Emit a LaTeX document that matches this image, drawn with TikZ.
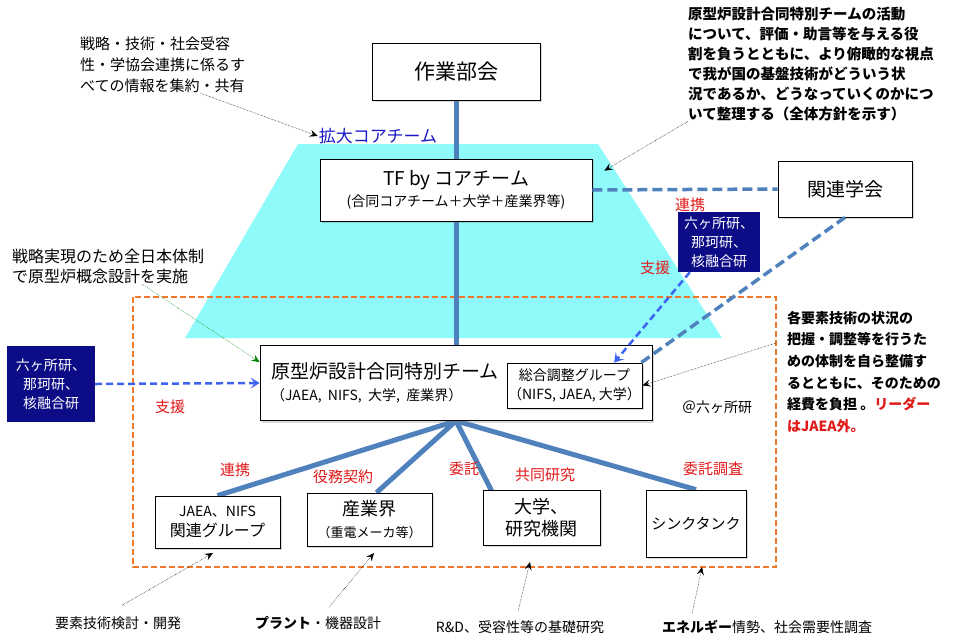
\documentclass[tikz,border=0pt]{standalone}
\usepackage{fontspec}
\setmainfont{Noto Sans CJK JP}
\usetikzlibrary{arrows.meta,shadows}
\pgfdeclarelayer{back}
\pgfdeclarelayer{mid}
\pgfsetlayers{back,mid,main}
\newcommand\fsz[2]{\fontsize{#1}{#2}\selectfont}
\definecolor{coreblue}{RGB}{79,129,189}
\definecolor{trapcyan}{RGB}{143,250,250}
\definecolor{frameorange}{RGB}{240,120,40}
\definecolor{labnavy}{RGB}{12,12,135}
\definecolor{linkblue}{RGB}{60,100,240}
\definecolor{notered}{RGB}{225,25,25}
\definecolor{extblue}{RGB}{25,25,200}
\definecolor{ptrgreen}{RGB}{0,128,0}

\begin{document}
\begin{tikzpicture}[x=1pt,y=-1pt,
  box/.style={draw=black,fill=white,line width=0.8pt,align=center,inner sep=0pt,
    drop shadow={shadow xshift=2pt,shadow yshift=-2pt,opacity=0.3}},
  lab/.style={fill=labnavy,text=white,align=center,inner sep=0pt,font=\fsz{14}{19}},
  note/.style={anchor=north west,align=left,inner sep=0pt},
  rel/.style={text=notered,inner sep=1pt,font=\fsz{15}{18}},
  trunk/.style={draw=coreblue,line width=5pt},
  link/.style={draw=coreblue,line width=3.5pt,dash pattern=on 10pt off 5pt},
  assist/.style={draw=linkblue,line width=2.5pt,dash pattern=on 7pt off 4pt,-{Stealth[length=9pt,width=11pt,inset=4pt]}},
  ptr/.style={draw=black,line width=0.5pt,densely dotted,-{Stealth[length=8pt,width=7pt,inset=3pt]}}]
\useasboundingbox (0,0) rectangle (957,641);

\begin{pgfonlayer}{back}
\fill[trapcyan] (298,144) -- (598,144) -- (722,338) -- (185,338) -- cycle;
\draw[frameorange,line width=2pt,dash pattern=on 6pt off 3pt] (133,297) rectangle (776,567);
\end{pgfonlayer}

% boxes
\node[box,minimum width=168pt,minimum height=57pt,font=\fsz{21}{24}] (wg) at (456,71.5) {作業部会};
\node[box,minimum width=272pt,minimum height=62pt,font=\fsz{19}{22}] (tf) at (456,190) {TF by コアチーム\\[-1pt]{\fsz{14}{16}(合同コアチーム＋大学＋産業界等)}};
\node[box,minimum width=134pt,minimum height=56pt,font=\fsz{19}{22}] (soc) at (845,189) {関連学会};
\node[box,minimum width=392pt,minimum height=75pt,text width=370pt,align=left,font=\fsz{19}{22}] (team) at (456,383) {原型炉設計合同特別チーム\\{\fsz{14}{17}（JAEA, NIFS, 大学, 産業界）}};
\node[box,minimum width=135pt,minimum height=45pt,font=\fsz{14}{19}] (coord) at (574.5,385.5) {総合調整グループ\\（NIFS, JAEA, 大学）};
\node[box,minimum width=125pt,minimum height=52pt,font=\fsz{14}{20}] (jaea) at (217.5,522) {JAEA、NIFS\\{\fsz{16}{20}関連グループ}};
\node[box,minimum width=125pt,minimum height=53pt,font=\fsz{18}{22}] (ind) at (369.5,519.5) {産業界\\{\fsz{13}{16}（重電メーカ等）}};
\node[box,minimum width=117pt,minimum height=55pt,font=\fsz{18}{22}] (univ) at (541.5,517.5) {大学、\\研究機関};
\node[box,minimum width=100pt,minimum height=67pt,font=\fsz{15}{18}] (think) at (696,523.5) {シンクタンク};
\node[lab,minimum width=82pt,minimum height=60pt] (nav2) at (719,242) {六ヶ所研、\\那珂研、\\核融合研};
\node[lab,minimum width=88pt,minimum height=76pt] (nav1) at (51,384) {六ヶ所研、\\那珂研、\\核融合研};

% texts
\node[text=extblue,inner sep=1pt,font=\fsz{17}{20}] (ext) at (378,136) {拡大コアチーム};
\node[inner sep=1pt,font=\fsz{14}{17}] (site) at (717,407) {＠六ヶ所研};
\node[note,font=\fsz{15}{21}] (info) at (80,37) {戦略・技術・社会受容\\性・学協会連携に係るす\\べての情報を集約・共有};
\node[note,font=\fsz{16}{20}] (strat) at (12,249) {戦略実現のため全日本体制\\で原型炉概念設計を実施};
\node[note,font=\fsz{14.5}{20}\bfseries] (top) at (688,7) {原型炉設計合同特別チームの活動\\について、評価・助言等を与える役\\割を負うとともに、より俯瞰的な視点\\で我が国の基盤技術がどういう状\\況であるか、どうなっていくのかにつ\\いて整理する（全体方針を示す）};
\node[note,font=\fsz{14}{21.6}\bfseries] (side) at (787,311) {各要素技術の状況の\\把握・調整等を行うた\\めの体制を自ら整備す\\るとともに、そのための\\経費を負担 。{\color{notered}リーダー}\\{\color{notered}はJAEA外。}};
\node[rel] (r1) at (690,205) {連携};
\node[rel] (r2) at (655,268) {支援};
\node[rel] (r3) at (170,407) {支援};
\node[rel] (r4) at (235,470) {連携};
\node[rel] (r5) at (343,477) {役務契約};
\node[rel] (r6) at (464,469) {委託};
\node[rel] (r7) at (545,475) {共同研究};
\node[rel] (r8) at (713,469) {委託調査};
\node[inner sep=1pt,font=\fsz{14}{17}] (b1) at (118,623) {要素技術検討・開発};
\node[inner sep=1pt,font=\fsz{14}{17}] (b2) at (318,623) {{\bfseries プラント}・機器設計};
\node[inner sep=1pt,font=\fsz{14}{17}] (b3) at (520,627) {R\&D、受容性等の基礎研究};
\node[inner sep=1pt,font=\fsz{14}{17}] (b4) at (767,627) {{\bfseries エネルギー}情勢、社会需要性調査};

\coordinate (h1) at (213,553);
\coordinate (h2) at (374,553);
\coordinate (h3) at (530,562);
\coordinate (h4) at (702,567);

% connectors
\begin{pgfonlayer}{mid}
\draw[trunk] (wg) -- (team);
\draw[trunk] (team.south) -- (jaea.north);
\draw[trunk] (team.south) -- ([xshift=7pt]ind.north);
\draw[trunk] (team.south) -- ([xshift=-49pt,yshift=-3pt]univ.north);
\draw[trunk] (team.south) -- (think.north);
\end{pgfonlayer}
\draw[link] (tf.east) -- (soc.west);
\draw[link] (soc.south) -- ([xshift=-4pt,yshift=-2pt]coord.north east);
\draw[assist] (nav2.226) -- (coord.30);
\draw[assist] (nav1.east) -- (team.west);
\draw[ptr] ([xshift=38pt]info.south) -- (ext.west);
\draw[ptr] (top.south west) -- ([xshift=12pt,yshift=-12pt]tf.north east);
\draw[ptr] ([xshift=-11pt,yshift=-32pt]side.north west) -- (coord.east);
\draw[ptr,draw=ptrgreen] ([xshift=34pt]strat.south) -- ([yshift=-17pt]team.north west);
\draw[ptr] ([xshift=4pt,yshift=10pt]b1.north) -- (h1);
\draw[ptr] ([xshift=11pt,yshift=8pt]b2.north) -- (h2);
\draw[ptr] ([xshift=-2pt,yshift=8pt]b3.north) -- (h3);
\draw[ptr] ([xshift=-75pt,yshift=5pt]b4.north) -- (h4);
\end{tikzpicture}
\end{document}
